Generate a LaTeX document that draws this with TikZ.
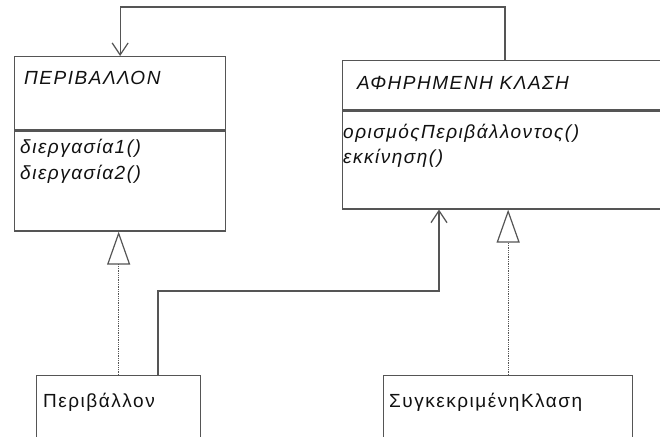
\documentclass[tikz,border=0pt]{standalone}
\usepackage{fontspec}
\usepackage{xcolor}
\usetikzlibrary{arrows.meta,positioning}
\newfontfamily\umlfont{Liberation Sans}[LetterSpace=8]
\definecolor{edge}{HTML}{555555}
\definecolor{ink}{HTML}{111111}

\begin{document}
\begin{tikzpicture}[x=1pt, y=-1pt,
  cls/.style={rectangle, draw=edge, line width=1.3pt, anchor=north west, inner sep=0pt},
  txt/.style={anchor=base west, inner sep=0pt, text=ink,
              font=\umlfont\fontsize{19}{22}\selectfont},
  ital/.style={txt, font=\umlfont\itshape\fontsize{19}{22}\selectfont},
  assoc/.style={-{Straight Barb[length=12pt,width=16pt,line width=1.2pt]}, line width=1.3pt, color=edge},
  real/.style={-{Triangle[open,length=33pt,width=23pt,line width=1.2pt]}, line width=1.3pt,
               color=edge, densely dotted},
]
  \fill[white] (0,0) rectangle (660,436);
  \useasboundingbox (0,0) rectangle (660,436);
  \clip (0,0) rectangle (660,436);
  % abstract classes
  \node[cls, minimum width=211pt, minimum height=73pt](envhd) at (14,56) {};
  \node[cls, minimum width=211pt, minimum height=100pt, below=0pt of envhd.south west, anchor=north west](envops) {};
  \node[cls, minimum width=360pt, minimum height=49pt](abshd) at (342,60) {};
  \node[cls, minimum width=360pt, minimum height=98pt, below=0pt of abshd.south west, anchor=north west](absops) {};
  % concrete classes
  \node[cls, minimum width=164pt, minimum height=90pt](envimpl) at (36,375) {};
  \node[cls, minimum width=249pt, minimum height=90pt](concrete) at (383,375) {};
  \node[ital](envname) at (24,84) {ΠΕΡΙΒΑΛΛΟΝ};
  \node[ital](op1) at (20,153) {διεργασία1()};
  \node[ital](op2) at (20,179) {διεργασία2()};
  \node[ital](absname) at (357,89) {ΑΦΗΡΗΜΕΝΗ ΚΛΑΣΗ};
  \node[ital](op3) at (343,138) {ορισμόςΠεριβάλλοντος()};
  \node[ital](op4) at (343,163) {εκκίνηση()};
  \node[txt](implname) at (43,407) {Περιβάλλον};
  \node[txt](concname) at (389,407) {ΣυγκεκριμένηΚλαση};
  \draw[assoc] ([xshift=163pt]abshd.north west) -- ++(0,-53) -| (envhd.north);
  \draw[real] (envimpl.north) -- (envimpl.north |- envops.south);
  \draw[assoc] ([xshift=122pt]envimpl.north west) -- ++(0,-84) -| ([xshift=97pt]absops.south west);
  \draw[real] (concrete.north) -- (concrete.north |- absops.south);
\end{tikzpicture}
\end{document}
